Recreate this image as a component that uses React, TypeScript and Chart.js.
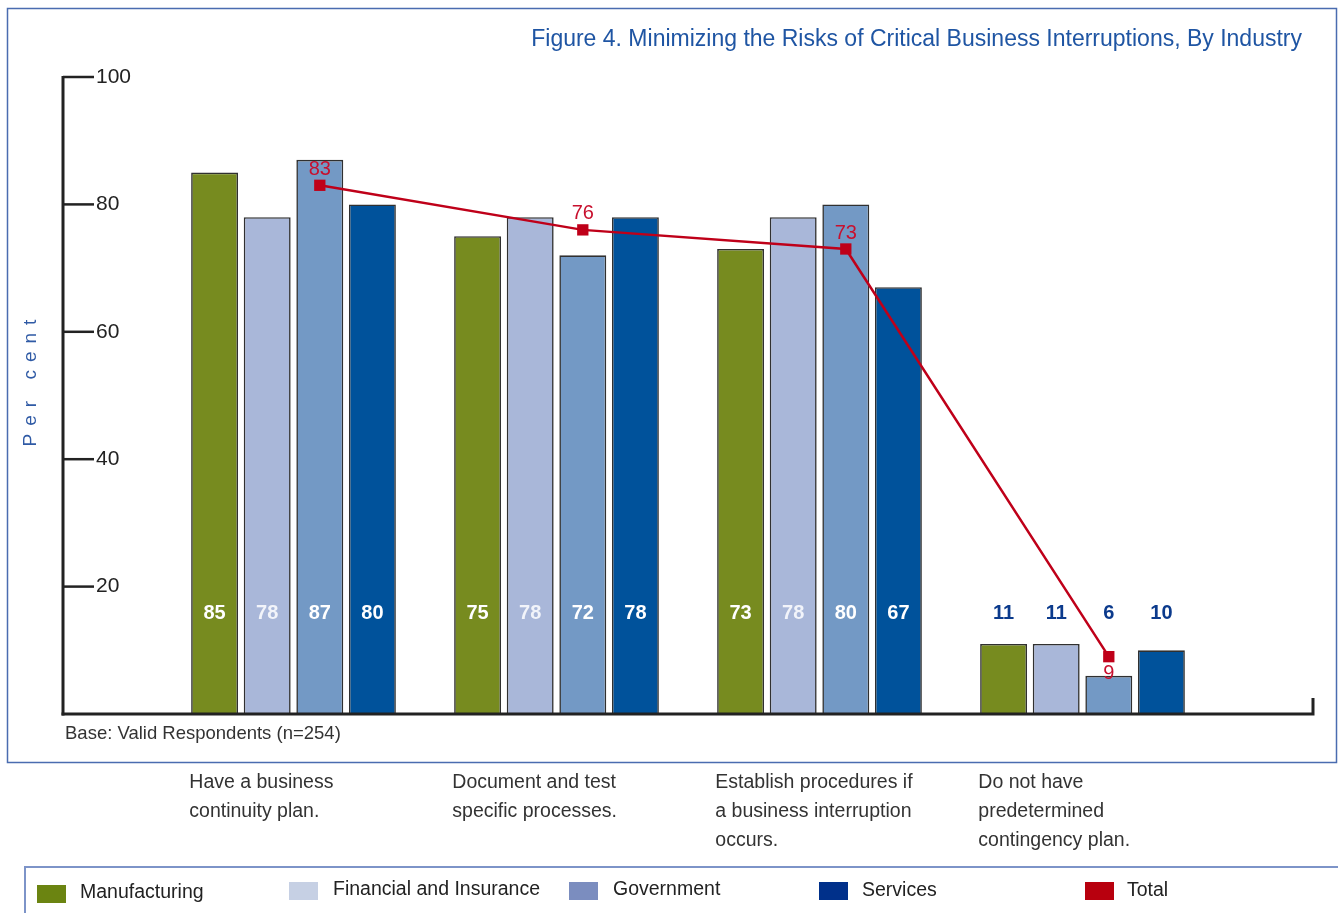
import React, { useEffect, useRef } from "react";
import { Chart, registerables } from "chart.js";

Chart.register(...registerables);

// ---- Data ----
const categories: string[][] = [
  ["Have a business", "continuity plan."],
  ["Document and test", "specific processes."],
  ["Establish procedures if", "a business interruption", "occurs."],
  ["Do not have", "predetermined", "contingency plan."],
];
const manufacturing = [85, 75, 73, 11];
const financial = [78, 78, 78, 11];
const government = [87, 72, 80, 6];
const services = [80, 78, 67, 10];
const total = [83, 76, 73, 9];
const yTicks = [20, 40, 60, 80, 100];
const seriesNames = ["Manufacturing", "Financial and Insurance", "Government", "Services", "Total"];

const TITLE = "Figure 4. Minimizing the Risks of Critical Business Interruptions, By Industry";
const Y_TITLE = "Per cent";
const BASE_NOTE = "Base: Valid Respondents (n=254)";

// ---- Styles ----
const barColors = ["#778b1f", "#a9b7d9", "#7399c5", "#00529b"];
const legendColors = ["#6b8411", "#c6d0e4", "#7b8dbf", "#00308a", "#b8000e"];
const totalColor = "#bf0019";
const FONT = '"Liberation Sans", Arial, sans-serif';
const CAT_PCT = 0.8;
const BAR_PCT = 0.892;

const decorPlugin = {
  id: "decor",
  afterDatasetsUpdate(chart: any) {
    // place Total markers over the Government bar of each group
    const gov = chart.getDatasetMeta(2);
    const line = chart.getDatasetMeta(4);
    line.data.forEach((pt: any, i: number) => {
      if (gov.data[i]) pt.x = gov.data[i].x;
    });
  },
  beforeDraw(chart: any) {
    const { ctx, chartArea } = chart;
    ctx.save();
    ctx.fillStyle = "#ffffff";
    ctx.fillRect(0, 0, chart.width, chart.height);
    // outer frame
    ctx.strokeStyle = "#4a6cb0";
    ctx.lineWidth = 1.5;
    ctx.strokeRect(7.5, 8.5, 1329, 754);
    // legend frame
    ctx.strokeStyle = "#7d94c8";
    ctx.lineWidth = 2;
    ctx.strokeRect(25, 867, 1340, 80);
    // title
    ctx.fillStyle = "#1f55a3";
    ctx.font = `23px ${FONT}`;
    ctx.textAlign = "right";
    ctx.textBaseline = "middle";
    ctx.fillText(TITLE, 1302, 40);
    // y title
    ctx.save();
    ctx.translate(31, 383);
    ctx.rotate(-Math.PI / 2);
    ctx.font = `19px ${FONT}`;
    (ctx as any).letterSpacing = "8px";
    ctx.textAlign = "center";
    ctx.fillStyle = "#2f5aa5";
    ctx.fillText(Y_TITLE, 4, 0);
    ctx.restore();
    // base note
    ctx.fillStyle = "#333333";
    ctx.font = `18.5px ${FONT}`;
    ctx.textAlign = "left";
    ctx.fillText(BASE_NOTE, 65, 734);
    // category labels
    const xs = chart.scales.x;
    const catW = (chartArea.right - chartArea.left) / categories.length;
    ctx.font = `19.5px ${FONT}`;
    ctx.fillStyle = "#333333";
    categories.forEach((lines, i) => {
      const x = xs.getPixelForValue(i) - (catW * CAT_PCT) / 2 + 1;
      lines.forEach((ln, j) => ctx.fillText(ln, x, 783 + j * 29));
    });
    // legend
    const sqX = [37, 289, 569, 819, 1085];
    const sqY = [885, 882, 882, 882, 882];
    const txX = [80, 333, 613, 862, 1127];
    const txY = [893, 890, 890, 891, 891];
    ctx.font = `19.5px ${FONT}`;
    seriesNames.forEach((n, i) => {
      ctx.fillStyle = legendColors[i];
      ctx.fillRect(sqX[i], sqY[i], 29, 18);
      ctx.fillStyle = "#222222";
      ctx.fillText(n, txX[i], txY[i]);
    });
    ctx.restore();
  },
  beforeDatasetsDraw(chart: any) {
    const { ctx, chartArea } = chart;
    const ys = chart.scales.y;
    const axisL = chartArea.left - 99;
    ctx.save();
    ctx.strokeStyle = "#222222";
    ctx.lineWidth = 3;
    ctx.beginPath();
    ctx.moveTo(axisL, ys.getPixelForValue(100) - 1);
    ctx.lineTo(axisL, ys.getPixelForValue(0) + 1.5);
    ctx.stroke();
    ctx.lineWidth = 2.5;
    ctx.font = `21px ${FONT}`;
    ctx.fillStyle = "#222222";
    ctx.textAlign = "left";
    ctx.textBaseline = "middle";
    yTicks.forEach((v) => {
      const y = ys.getPixelForValue(v);
      ctx.beginPath();
      ctx.moveTo(axisL, y);
      ctx.lineTo(axisL + 31, y);
      ctx.stroke();
      ctx.fillText(String(v), axisL + 33, y);
    });
    ctx.restore();
  },
  afterDatasetsDraw(chart: any) {
    const { ctx, chartArea } = chart;
    const ys = chart.scales.y;
    const axisL = chartArea.left - 99;
    const axisR = chartArea.right + 99;
    const y0 = ys.getPixelForValue(0);
    ctx.save();
    // x axis
    ctx.strokeStyle = "#222222";
    ctx.lineWidth = 3;
    ctx.beginPath();
    ctx.moveTo(axisL - 1.5, y0);
    ctx.lineTo(axisR, y0);
    ctx.lineTo(axisR, y0 - 16);
    ctx.stroke();
    // bar value labels
    const labelY = ys.getPixelForValue(15.8);
    ctx.font = `bold 20px ${FONT}`;
    ctx.textAlign = "center";
    ctx.textBaseline = "middle";
    [manufacturing, financial, government, services].forEach((arr, d) => {
      const meta = chart.getDatasetMeta(d);
      arr.forEach((v, i) => {
        const bar = meta.data[i];
        const inside = bar.y < labelY - 16;
        ctx.fillStyle = inside ? (d === 1 ? "#f2f4fa" : "#ffffff") : "#0b3a8c";
        ctx.fillText(String(v), bar.x, labelY);
      });
    });
    // total labels
    const lm = chart.getDatasetMeta(4);
    ctx.font = `20px ${FONT}`;
    ctx.fillStyle = "#c8102e";
    total.forEach((v, i) => {
      const p = lm.data[i];
      const below = v < 20;
      ctx.fillText(String(v), p.x, below ? p.y + 17 : p.y - 16);
    });
    ctx.restore();
  },
};

export default function App() {
  const ref = useRef<HTMLCanvasElement | null>(null);
  useEffect(() => {
    if (!ref.current) return;
    const barSets = [manufacturing, financial, government, services].map((data, i) => ({
      type: "bar" as const,
      label: seriesNames[i],
      data,
      backgroundColor: barColors[i],
      borderColor: "#303030",
      borderWidth: 1.6,
      categoryPercentage: CAT_PCT,
      barPercentage: BAR_PCT,
      order: 1,
    }));
    const chart = new Chart(ref.current, {
      type: "bar",
      data: {
        labels: categories.map((c) => c.join(" ")),
        datasets: [
          ...barSets,
          {
            type: "line" as const,
            label: seriesNames[4],
            data: total,
            borderColor: totalColor,
            borderWidth: 2.5,
            pointStyle: "rect",
            pointRadius: 8,
            pointBackgroundColor: totalColor,
            pointBorderWidth: 0,
            tension: 0,
            order: 0,
          } as any,
        ],
      },
      options: {
        responsive: false,
        animation: false,
        devicePixelRatio: 1,
        layout: { padding: { left: 162, right: 124, top: 77, bottom: 199 } },
        scales: {
          x: { display: false },
          y: { display: false, min: 0, max: 100 },
        },
        plugins: { legend: { display: false }, tooltip: { enabled: false } },
      },
      plugins: [decorPlugin],
    });
    return () => chart.destroy();
  }, []);
  return (
    <div style={{ position: "fixed", left: 0, top: 0, width: 1338, height: 913, background: "#fff" }}>
      <canvas ref={ref} width={1338} height={913} />
    </div>
  );
}
